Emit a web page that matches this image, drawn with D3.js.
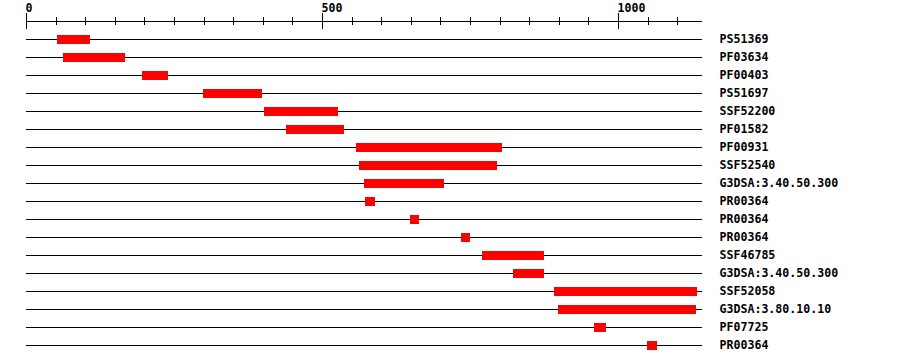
<!DOCTYPE html>
<html>
<head>
<meta charset="utf-8">
<script src="https://cdn.jsdelivr.net/npm/d3@7"></script>
<style>
  html, body { margin: 0; padding: 0; background: #fff; }
  svg { display: block; }
</style>
</head>
<body>
<div id="chart"></div>
<script>
// Domain hits, one row each
const labels = [
  "PS51369", "PF03634", "PF00403", "PS51697", "SSF52200", "PF01582",
  "PF00931", "SSF52540", "G3DSA:3.40.50.300", "PR00364", "PR00364", "PR00364",
  "SSF46785", "G3DSA:3.40.50.300", "SSF52058", "G3DSA:3.80.10.10", "PF07725", "PR00364"
]
const starts = [52, 62, 195, 298, 402, 439, 557, 562, 570, 572, 648, 734, 770, 822, 891, 898, 959, 1048]
const ends   = [108, 167, 239, 398, 526, 537, 804, 795, 705, 589, 663, 749, 874, 874, 1133, 1131, 979, 1065]

const seqLength = 1141
const majorTicks = [0, 500, 1000]
const minorTicks = d3.range(0, 1101, 50).filter(v => !majorTicks.includes(v))

const width = 900
const height = 364
const rowTop = 39
const rowStep = 18
const barHeight = 9
const labelX = 720
const font = "'DejaVu Sans Mono', 'Liberation Mono', monospace"

const x = d3.scaleLinear()
  .domain([0, seqLength])
  .range([26.5, 26.5 + seqLength * 0.592])

const y = d3.scaleLinear()
  .domain([0, 1])
  .range([rowTop, rowTop + rowStep])

const svg = d3.select("#chart")
  .append("svg")
  .attr("width", width)
  .attr("height", height)
  .style("font-family", font)
  .style("font-size", "11.6px")
  .style("font-weight", "bold")

// Ruler
const axisY = 21.5
svg.append("line")
  .attr("x1", x(0)).attr("x2", x(seqLength))
  .attr("y1", axisY).attr("y2", axisY)
  .attr("stroke", "#000")

svg.selectAll(".minor")
  .data(minorTicks)
  .enter()
  .append("line")
  .attr("x1", d => Math.floor(x(d)) + 0.5)
  .attr("x2", d => Math.floor(x(d)) + 0.5)
  .attr("y1", 17).attr("y2", 25)
  .attr("stroke", "#000")

svg.selectAll(".major")
  .data(majorTicks)
  .enter()
  .append("line")
  .attr("x1", d => Math.floor(x(d)) + 0.5)
  .attr("x2", d => Math.floor(x(d)) + 0.5)
  .attr("y1", 13).attr("y2", 29)
  .attr("stroke", "#000")

svg.selectAll(".tick-label")
  .data(majorTicks)
  .enter()
  .append("text")
  .attr("x", d => Math.floor(x(d)) - 0.5)
  .attr("y", 12)
  .attr("fill", "#000")
  .text(d => d)

// Rows
const rows = svg.selectAll(".row")
  .data(labels)
  .enter()
  .append("g")
  .attr("class", "row")

rows.append("line")
  .attr("x1", x(0) - 0.5).attr("x2", x(seqLength))
  .attr("y1", (_, i) => y(i) + 0.5)
  .attr("y2", (_, i) => y(i) + 0.5)
  .attr("stroke", "#000")

rows.append("rect")
  .attr("x", (_, i) => Math.round(x(starts[i])))
  .attr("width", (_, i) => Math.round(x(ends[i])) - Math.round(x(starts[i])))
  .attr("y", (_, i) => y(i) - 4)
  .attr("height", barHeight)
  .attr("fill", "#ff0000")

rows.append("text")
  .attr("x", labelX - 0.5)
  .attr("y", (_, i) => y(i) + 4)
  .attr("fill", "#000")
  .text(d => d)
</script>
</body>
</html>
